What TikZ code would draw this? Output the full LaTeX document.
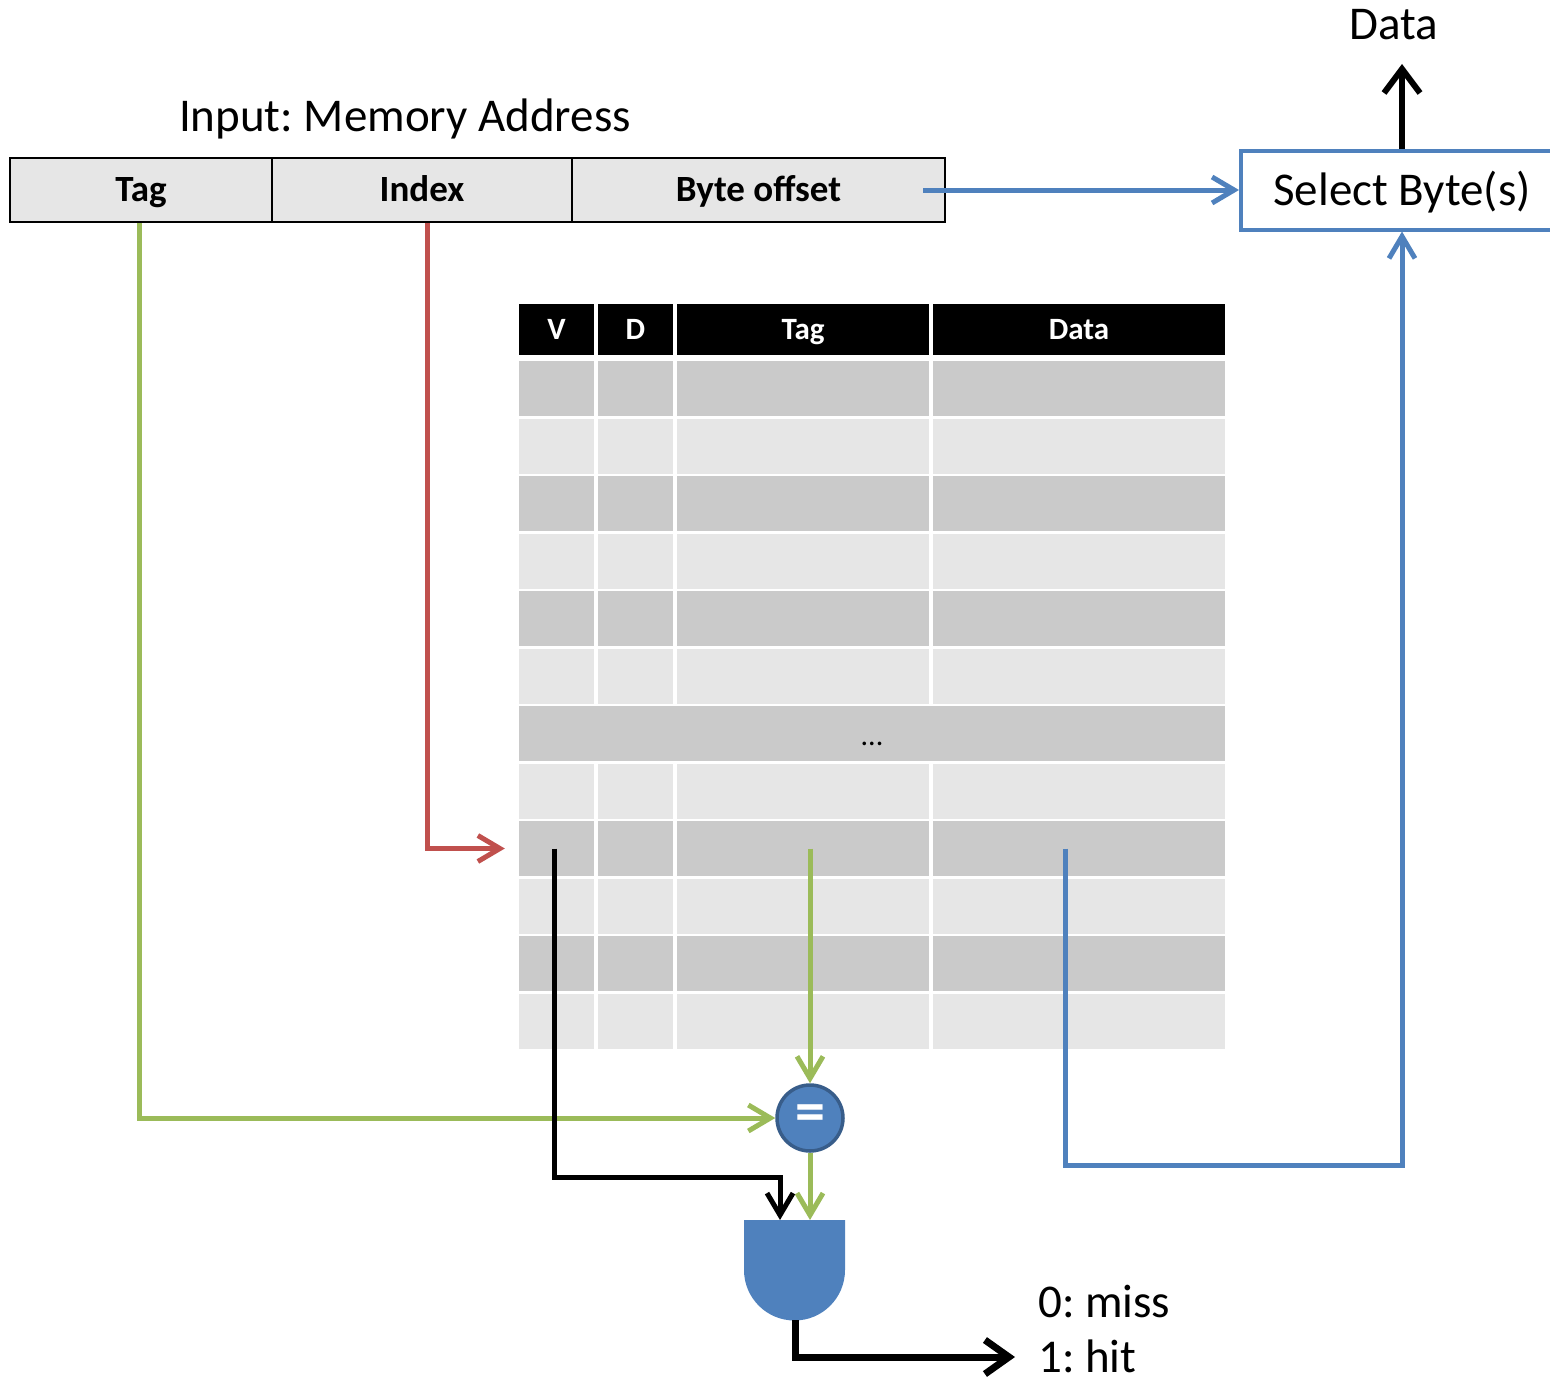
\documentclass[tikz,border=0pt]{standalone}
\usepackage{fontspec}
\setmainfont{Carlito}
\frenchspacing
\usetikzlibrary{arrows.meta}

\definecolor{wireblue}{HTML}{4F81BD}
\definecolor{wirered}{HTML}{C0504D}
\definecolor{wiregreen}{HTML}{9BBB59}
\definecolor{ringblue}{HTML}{385D8A}
\definecolor{rowdark}{HTML}{CACACA}
\definecolor{rowlight}{HTML}{E6E6E6}

\tikzstyle{field}=[rectangle,
    draw=black,
    line width=2.5pt,
    fill=rowlight,
    minimum height=64pt,
    inner sep=0pt,
    text height=27.7pt,
    text depth=4pt,
    font=\fontsize{37}{44}\selectfont\bfseries]
\tikzstyle{head}=[rectangle,
    fill=black,
    text=white,
    minimum height=51pt,
    inner sep=0pt,
    text height=23.2pt,
    text depth=3.4pt,
    font=\fontsize{31}{36}\selectfont\bfseries]
\tikzstyle{cell}=[rectangle,
    minimum height=55pt,
    inner sep=0pt]
\tikzstyle{big}=[text height=35.2pt, text depth=5.2pt, font=\fontsize{47}{56}\selectfont]
\tikzstyle{wire}=[line width=5pt]

\begin{document}
\begin{tikzpicture}[x=1pt,y=-1pt,>={Straight Barb[length=22pt,width=26pt]}]
    \clip (0,0) rectangle (1550,1381);

    % memory address
    \node (input) [big] at (405,116) {Input: Memory Address};
    \node (tag) [field, minimum width=262pt] at (141,190) {Tag};
    \node (index) [field, minimum width=300pt] at (422,190) {Index};
    \node (offset) [field, minimum width=373pt] at (758.5,190) {Byte offset};

    % cache table
    \foreach \x/\w/\t [count=\j] in {556.5/75/V, 635.5/75/D, 803/252/Tag, 1079/292/Data}
        \node (h-\j) [head, minimum width=\w pt] at (\x,329.5) {\t};
    \foreach \i in {1,...,12} {
        \ifodd\i \def\shade{rowdark}\else\def\shade{rowlight}\fi
        \ifnum\i=7
            \node (c-\i) [cell, fill=\shade, minimum width=706pt] at (872,{388.5+(\i-1)*57.5}) {};
            \node (dots) [anchor=base, font=\fontsize{30}{34}\selectfont] at (872,745) {...};
        \else
            \foreach \x/\w [count=\j] in {556.5/75, 635.5/75, 803/252, 1079/292}
                \node (c-\i-\j) [cell, fill=\shade, minimum width=\w pt] at (\x,{388.5+(\i-1)*57.5}) {};
        \fi
    }

    % comparator and gate
    \node (eq) [circle, fill=wireblue, draw=ringblue, line width=3.5pt, minimum size=66pt, inner sep=0pt,
        text=white, font=\fontsize{60}{64}\selectfont\bfseries] at (810,1118) {=};
    \fill[wireblue] (744,1220) -- (845,1220) -- (845,1270) arc[start angle=0, end angle=-180, radius=50.5pt] -- cycle;
    \coordinate (andA) at (780,1220);
    \coordinate (andB) at (810,1220);
    \coordinate (andout) at (795,1320);

    % select
    \node (sel) [rectangle, draw=wireblue, line width=4pt, minimum width=322pt, minimum height=79pt, big]
        at (1402,190) {Select Byte(s)};
    \node (data) [big] at (1394,25) {Data};
    \coordinate (dataout) at (1402,64);
    \node (miss) [big, anchor=west, inner xsep=23pt] at (1015,1302) {0: miss};
    \node (hit) [big, anchor=west, inner xsep=23pt] at (1015,1357) {1: hit};
    \coordinate (rowin) at ([xshift=-14pt]c-9-1.west);
    \coordinate (ret) at (1402,1165);

    % wires
    \draw [wire, wirered, ->] ([xshift=5pt]index.south) |- (rowin);
    \draw [wire, wiregreen, ->] ([xshift=-2pt]tag.south) |- (eq.west);
    \draw [wire, wiregreen, ->] (c-9-3.center -| eq.north) -- (eq.north);
    \draw [wire, wiregreen, ->] (eq.south) -- (andB);
    \draw [wire, black, ->] ([xshift=-2pt]c-9-1.center) |- ([yshift=43pt]andA) -- (andA);
    \draw [line width=7pt, ->, >={Straight Barb[length=24pt,width=34pt]}] (andout) |- (hit.west);
    \draw [wire, wireblue, ->] ([xshift=-14pt]c-9-4.center) |- (ret) -- (sel.south);
    \draw [wire, wireblue, ->] ([xshift=-23pt]offset.east) -- (sel.west);
    \draw [line width=6pt, ->, >={Straight Barb[length=24pt,width=36pt]}] (sel.north) -- (dataout);
\end{tikzpicture}
\end{document}
